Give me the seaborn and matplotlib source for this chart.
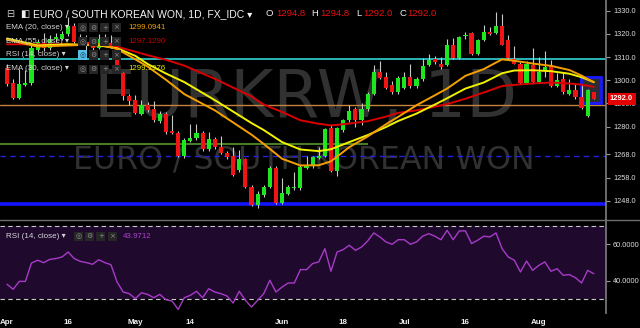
import numpy as np
import pandas as pd
import matplotlib
matplotlib.use("Agg")
import matplotlib.pyplot as plt
import matplotlib.transforms as mtrans
from matplotlib.patches import Rectangle
from matplotlib.lines import Line2D
import seaborn as sns

# ---------------- data ----------------
opens = [1305.1, 1298.6, 1292.4, 1298.1, 1298.6, 1313.0, 1315.9, 1313.7, 1317.6, 1318.0,
         1319.8, 1323.5, 1318.3, 1316.6, 1315.4, 1314.0, 1318.0, 1315.9, 1315.2, 1302.9,
         1293.2, 1291.3, 1285.6, 1289.2, 1287.4, 1282.3, 1285.6, 1277.9, 1277.2, 1267.2,
         1273.9, 1275.0, 1277.2, 1270.1, 1274.8, 1271.1, 1268.5, 1267.2, 1261.1, 1265.8,
         1254.1, 1246.3, 1250.5, 1254.1, 1262.1, 1247.0, 1250.9, 1253.4, 1253.4, 1262.3,
         1262.8, 1266.5, 1267.5, 1279.4, 1260.8, 1278.4, 1282.7, 1287.7, 1282.7, 1287.4,
         1294.2, 1303.6, 1301.4, 1297.8, 1294.7, 1296.7, 1301.4, 1297.4, 1300.4, 1306.5,
         1309.1, 1306.8, 1306.5, 1315.2, 1309.4, 1319.0, 1320.2, 1311.5, 1317.3, 1320.6,
         1320.2, 1323.5, 1317.3, 1309.1, 1307.2, 1299.0, 1306.5, 1299.3, 1303.9, 1306.5,
         1297.5, 1300.4, 1294.2, 1295.7, 1292.6, 1284.6, 1294.8]
highs = [1307.0, 1300.5, 1305.0, 1304.5, 1316.0, 1318.0, 1320.2, 1319.5, 1320.5, 1321.2,
         1327.4, 1324.5, 1320.0, 1319.5, 1317.0, 1320.0, 1320.0, 1319.5, 1316.5, 1303.5,
         1294.0, 1293.5, 1291.5, 1290.5, 1291.0, 1286.5, 1286.3, 1284.9, 1278.0, 1275.2,
         1281.3, 1281.3, 1278.2, 1277.5, 1275.6, 1275.9, 1269.3, 1271.1, 1269.7, 1266.5,
         1254.7, 1252.0, 1254.8, 1262.8, 1262.8, 1257.7, 1254.8, 1260.3, 1263.2, 1267.5,
         1267.5, 1271.0, 1279.4, 1280.8, 1280.0, 1283.4, 1289.2, 1288.6, 1290.2, 1294.8,
         1306.5, 1308.2, 1303.6, 1299.5, 1302.0, 1303.6, 1307.2, 1301.5, 1309.4, 1311.1,
         1310.5, 1310.1, 1317.6, 1318.3, 1319.2, 1320.6, 1321.0, 1318.0, 1323.8, 1323.1,
         1329.6, 1328.4, 1319.5, 1314.7, 1308.0, 1308.2, 1313.7, 1310.1, 1312.6, 1308.7,
         1302.9, 1302.9, 1300.4, 1299.0, 1297.8, 1296.4, 1294.8]
lows = [1297.5, 1291.8, 1291.8, 1297.5, 1297.8, 1312.3, 1312.8, 1313.0, 1316.5, 1317.2,
        1319.2, 1315.8, 1316.0, 1313.0, 1313.0, 1313.3, 1315.5, 1313.8, 1303.0, 1291.5,
        1289.3, 1285.5, 1285.0, 1286.3, 1282.0, 1281.5, 1277.0, 1276.8, 1267.0, 1266.6,
        1273.3, 1274.4, 1269.5, 1269.5, 1270.5, 1268.0, 1266.2, 1258.7, 1260.5, 1253.5,
        1245.8, 1244.7, 1249.8, 1253.5, 1246.5, 1246.5, 1250.3, 1252.8, 1252.8, 1261.5,
        1262.0, 1266.0, 1267.0, 1260.3, 1258.6, 1277.8, 1282.0, 1279.8, 1280.5, 1286.8,
        1293.6, 1300.4, 1296.0, 1294.0, 1294.0, 1296.0, 1296.8, 1296.8, 1299.8, 1306.0,
        1307.2, 1305.0, 1306.0, 1309.0, 1309.0, 1318.0, 1311.0, 1311.0, 1316.8, 1319.3,
        1319.8, 1315.0, 1309.0, 1306.8, 1298.5, 1298.6, 1298.8, 1298.8, 1301.5, 1297.0,
        1297.0, 1294.2, 1293.7, 1292.1, 1287.5, 1284.0, 1292.0]
closes = [1298.3, 1292.4, 1298.3, 1299.0, 1313.7, 1316.3, 1313.7, 1318.0, 1318.5, 1319.8,
          1323.5, 1316.6, 1316.9, 1315.4, 1313.7, 1318.0, 1316.3, 1314.4, 1303.6, 1293.2,
          1290.9, 1286.0, 1289.2, 1287.0, 1282.7, 1285.6, 1277.6, 1277.2, 1267.5, 1274.0,
          1275.0, 1277.2, 1270.1, 1274.8, 1271.1, 1268.5, 1266.8, 1259.2, 1265.8, 1254.1,
          1246.2, 1250.9, 1254.1, 1262.1, 1247.0, 1251.4, 1254.1, 1254.1, 1262.5, 1263.2,
          1266.8, 1267.5, 1278.8, 1260.8, 1279.4, 1282.7, 1286.6, 1282.7, 1287.4, 1294.2,
          1303.6, 1301.0, 1296.7, 1294.7, 1301.0, 1301.4, 1297.4, 1300.7, 1306.2, 1308.7,
          1307.7, 1305.5, 1315.4, 1309.4, 1318.8, 1319.3, 1311.5, 1317.3, 1320.6, 1319.8,
          1323.5, 1315.4, 1309.4, 1307.2, 1299.0, 1306.8, 1299.3, 1303.6, 1305.8, 1297.5,
          1300.0, 1294.7, 1295.7, 1292.6, 1288.0, 1295.7, 1292.0]

ema_idx = [0, 5, 10, 15, 18, 21, 23, 26, 29, 34, 40, 42, 45, 48, 51, 53, 56, 59, 62, 64,
           67, 70, 72, 75, 78, 81, 83, 86, 89, 92, 94, 96]
ema20 = [1317.5, 1314.5, 1315.0, 1315.5, 1313.5, 1309.0, 1305.9, 1300.2, 1294.0, 1287.0,
         1276.5, 1272.5, 1266.1, 1263.2, 1263.3, 1265.0, 1271.1, 1275.7, 1281.0, 1284.2,
         1289.2, 1293.5, 1296.4, 1301.9, 1304.8, 1309.0, 1308.4, 1307.2, 1306.2, 1304.4,
         1302.0, 1299.1]
ema30 = [1318.0, 1315.0, 1315.5, 1315.0, 1313.8, 1310.5, 1307.0, 1302.9, 1299.2, 1291.4,
         1281.5, 1278.5, 1273.3, 1270.1, 1269.4, 1270.2, 1273.3, 1276.3, 1279.8, 1282.4,
         1285.6, 1289.5, 1292.2, 1296.4, 1299.0, 1303.0, 1304.2, 1304.3, 1303.9, 1302.8,
         1301.3, 1299.2]
ema55 = [1315.5, 1315.5, 1315.5, 1315.0, 1314.4, 1312.3, 1310.8, 1308.8, 1306.3, 1300.6,
         1293.0, 1289.5, 1286.3, 1282.7, 1281.2, 1280.5, 1281.3, 1282.3, 1284.3, 1285.9,
         1287.0, 1288.6, 1289.7, 1292.0, 1294.7, 1297.5, 1298.0, 1298.6, 1299.0, 1298.6,
         1298.1, 1297.1]

rsi = [38.2, 35.5, 39.8, 39.8, 49.8, 51.3, 50.0, 51.8, 52.2, 53.1,
       55.8, 52.2, 50.7, 50.0, 49.1, 51.6, 50.0, 48.9, 39.5, 34.0,
       33.1, 30.4, 33.6, 32.7, 30.9, 32.7, 29.8, 29.1, 24.5, 30.9,
       32.2, 34.4, 30.9, 35.8, 34.0, 33.1, 31.8, 28.0, 34.4, 29.5,
       25.8, 29.5, 33.1, 40.4, 34.0, 36.7, 38.9, 38.9, 46.2, 46.2,
       49.5, 50.4, 57.6, 45.3, 55.8, 57.1, 59.5, 56.7, 58.5, 61.8,
       66.2, 64.0, 61.3, 60.0, 62.5, 62.5, 60.0, 61.3, 64.4, 65.8,
       64.4, 62.5, 67.6, 62.5, 67.3, 67.3, 60.4, 62.2, 64.4, 64.0,
       66.2, 57.6, 53.1, 51.3, 44.9, 50.9, 45.8, 48.5, 50.4, 45.3,
       46.7, 43.1, 43.5, 41.8, 38.9, 45.8, 43.97]

price_ticks = [1330.0, 1320.0, 1310.0, 1300.0, 1290.0, 1280.0, 1268.0, 1258.0, 1248.0]
rsi_ticks = [60.0, 40.0]
date_tick_idx = [0, 10, 21, 30, 45, 55, 65, 75, 87]
date_tick_labels = ["Apr", "16", "May", "14", "Jun", "18", "Jul", "16", "Aug"]

level_cyan = 1309.0
level_tan = 1289.1
level_green = 1272.6
level_blue_dash = 1267.2
level_blue = 1246.6
last_price = 1292.0

# ---------------- styling ----------------
sns.set_theme(style="dark", rc={"axes.facecolor": "black", "figure.facecolor": "black",
                                "axes.edgecolor": "#7a7a7a", "axes.grid": False})
plt.rcParams["font.family"] = ["Liberation Sans", "DejaVu Sans"]

W, H = 640, 328
def fx(px):
    return px / W
def fy(py):
    return 1 - py / H

fig = plt.figure(figsize=(6.4, 3.28), dpi=100, facecolor="black")
ax = fig.add_axes([0, fy(220), 606 / W, 220 / H])
axr = fig.add_axes([0, fy(313), 606 / W, (313 - 220) / H], sharex=ax)

df = pd.DataFrame({"i": np.arange(len(opens)), "open": opens, "high": highs,
                   "low": lows, "close": closes, "rsi": rsi})
df["up"] = df["close"] >= df["open"]
df["bottom"] = df[["open", "close"]].min(axis=1)
df["height"] = (df["close"] - df["open"]).abs().clip(lower=0.35)

GREEN = "#1ee61e"
RED = "#f01414"

# watermark
ax.text(fx(306), fy(117), "EURKRW, 1D", transform=fig.transFigure, ha="center",
        va="baseline", fontsize=47.5, family="DejaVu Sans", color="#313131", zorder=0.3)
ax.text(fx(304), fy(168), "EURO / SOUTH KOREAN WON", transform=fig.transFigure,
        ha="center", va="baseline", fontsize=22.7, family="DejaVu Sans",
        color="#313131", zorder=0.3)

# horizontal levels
ax.axhline(level_cyan, color="#2cc4c6", lw=1.3, zorder=1)
ax.axhline(level_tan, color="#c4843e", lw=1.0, zorder=1)
ax.hlines(level_green, -2, 59.0, color="#4e8c2c", lw=1.3, zorder=1)
ax.axhline(level_blue_dash, color="#2222dd", lw=1.0, ls=(0, (4, 3)), zorder=1)
ax.axhline(level_blue, color="#1414ff", lw=2.6, zorder=1)

# highlight box
ax.add_patch(Rectangle((93.9, 1290.2), 3.3, 11.3, fc="#2c2c34", ec="#1a1aff",
                       lw=2, zorder=1.5))

# candles
ax.vlines(df["i"], df["low"], df["high"], color="#c8c8c8", lw=0.8, zorder=2)
ax.bar(df["i"], df["height"], bottom=df["bottom"], width=0.68,
       color=np.where(df["up"], GREEN, RED), linewidth=0, zorder=2.2)

# EMAs
ema_df = pd.DataFrame({"i": ema_idx, "e20": ema20, "e30": ema30, "e55": ema55})
sns.lineplot(data=ema_df, x="i", y="e55", ax=ax, color="#d80000", lw=1.4,
             sort=False, estimator=None, zorder=3)
sns.lineplot(data=ema_df, x="i", y="e30", ax=ax, color="#f2f200", lw=1.4,
             sort=False, estimator=None, zorder=3)
sns.lineplot(data=ema_df, x="i", y="e20", ax=ax, color="#f5a000", lw=1.4,
             sort=False, estimator=None, zorder=3)

ax.set_xlim(-1.15, 98.0)
ax.set_ylim(1239.67, 1334.62)
ax.set_xlabel("")
ax.set_ylabel("")
ax.yaxis.tick_right()
ax.set_yticks(price_ticks)
ax.set_yticklabels([f"{v:.1f}" for v in price_ticks])
ax.tick_params(axis="y", colors="#9a9a9a", labelcolor="#dcdcdc", labelsize=5.3,
               length=3, width=0.8, pad=2, direction="out", right=True, left=False)
ax.tick_params(axis="x", length=0, labelbottom=False)
for s in ["top", "left", "bottom"]:
    ax.spines[s].set_visible(False)
ax.spines["right"].set_color("#7a7a7a")

# last price tag
tr = mtrans.blended_transform_factory(ax.transAxes, ax.transData)
ax.text(1.0 + 4 / 606, last_price, f"{last_price:.1f}", transform=tr, ha="left",
        va="center", fontsize=5.4, fontweight="bold", color="white", clip_on=False,
        zorder=6, bbox=dict(boxstyle="square,pad=0.32", fc="#e40000", ec="none"))

# RSI panel
axr.axhspan(30, 70, color="#1f0a2e", lw=0, zorder=0.5)
axr.axhline(70, color="#c8c8c8", lw=0.8, ls=(0, (4, 3)), zorder=1)
axr.axhline(30, color="#c8c8c8", lw=0.8, ls=(0, (4, 3)), zorder=1)
sns.lineplot(data=df, x="i", y="rsi", ax=axr, color="#a83ac8", lw=1.0,
             sort=False, estimator=None, zorder=3)
axr.set_ylim(22.56, 73.24)
axr.set_xlabel("")
axr.set_ylabel("")
axr.yaxis.tick_right()
axr.set_yticks(rsi_ticks)
axr.set_yticklabels([f"{v:.4f}" for v in rsi_ticks])
axr.tick_params(axis="y", colors="#9a9a9a", labelcolor="#dcdcdc", labelsize=5.3,
                length=3, width=0.8, pad=2, right=True, left=False)
axr.set_xticks(date_tick_idx)
axr.set_xticklabels(date_tick_labels)
axr.tick_params(axis="x", colors="#9a9a9a", labelcolor="#f0f0f0", labelsize=5.8,
                length=0, pad=4)
for lbl in axr.get_xticklabels():
    lbl.set_fontweight("bold")
for s in ["top", "left", "bottom"]:
    axr.spines[s].set_visible(False)
axr.spines["right"].set_color("#7a7a7a")

# separator line across full width
fig.add_artist(Line2D([0, 1], [fy(220), fy(220)], transform=fig.transFigure,
                      color="#6e6e6e", lw=1.0))

# ---------------- legend texts ----------------
TXT = "#d4d4d4"
def icons(x0, yc, first_eye=False):
    syms = ["◎", "⚙", "+", "×"]
    for k, s in enumerate(syms):
        xl = x0 + k * 11.2
        fc = "#58bfe8" if (first_eye and k == 0) else "#262626"
        sc = "#10364a" if (first_eye and k == 0) else "#8c8c8c"
        fig.add_artist(Rectangle((fx(xl), fy(yc + 4.5)), 9 / W, 9 / H,
                                 transform=fig.transFigure, fc=fc, ec="none", zorder=5))
        fig.text(fx(xl + 4.5), fy(yc), s, ha="center", va="center", fontsize=5,
                 color=sc, family="DejaVu Sans", zorder=6)

fig.text(fx(6), fy(14), "⊟", ha="left", va="center", fontsize=7, color="#cfcfcf",
         family="DejaVu Sans")
fig.text(fx(20), fy(14), "◧", ha="left", va="center", fontsize=7, color="#f0f0f0",
         family="DejaVu Sans")
fig.text(fx(33), fy(14), "EURO / SOUTH KOREAN WON, 1D, FX_IDC ▾", ha="left",
         va="center", fontsize=7.5, color="#f4f4f4")
ohlc = [("O", 266, "1294.8", 276), ("H", 311, "1294.8", 320),
        ("L", 356, "1292.0", 363), ("C", 399, "1292.0", 407)]
for let, lx, val, vx in ohlc:
    fig.text(fx(lx), fy(14), let, ha="left", va="center", fontsize=6.8, color="#f0f0f0")
    fig.text(fx(vx), fy(14), val, ha="left", va="center", fontsize=6.8, color="#e81010")

leg_rows = [("EMA (20, close) ▾", 27.7, "1299.0941", "#f0a000", False),
            ("EMA (55, close) ▾", 41.7, "1297.1290", "#c80000", False),
            ("RSI (14, close) ▾", 55.0, None, None, True),
            ("EMA (30, close) ▾", 69.0, "1299.1976", "#e8e800", False)]
for label, yc, val, col, eye in leg_rows:
    fig.text(fx(6), fy(yc), label, ha="left", va="center", fontsize=5.8, color=TXT)
    icons(78, yc, first_eye=eye)
    if val:
        fig.text(fx(128), fy(yc), val, ha="left", va="center", fontsize=5.7, color=col)

fig.text(fx(6), fy(236), "RSI (14, close) ▾", ha="left", va="center", fontsize=5.8,
         color=TXT)
icons(74, 236)
fig.text(fx(123), fy(236), "43.9712", ha="left", va="center", fontsize=5.7,
         color="#b040d0")

fig.savefig("out.png", dpi=100, facecolor="black")
